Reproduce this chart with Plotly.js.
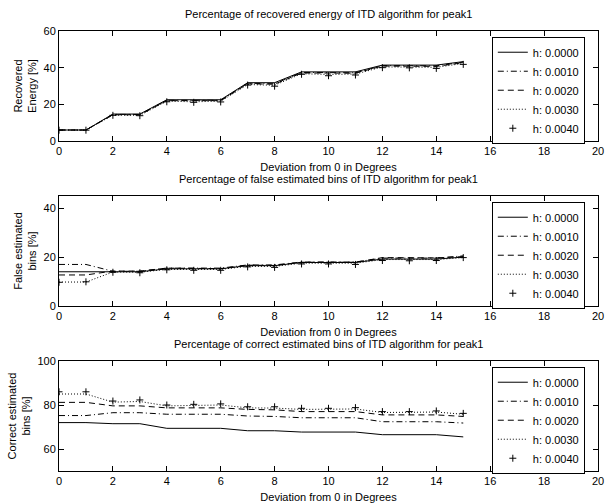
<!DOCTYPE html>
<html>
<head>
<meta charset="utf-8">
<script src="https://cdn.plot.ly/plotly-3.0.1.min.js"></script>
<style>html,body{margin:0;padding:0;background:#fff;}#chart{width:606px;height:504px;}</style>
</head>
<body>
<div id="chart"></div>
<script>
// ---- data ----
var deviation = [0,1,2,3,4,5,6,7,8,9,10,11,12,13,14,15];
var seriesNames = ['h: 0.0000','h: 0.0010','h: 0.0020','h: 0.0030','h: 0.0040'];

// Recovered energy [%]
var energy_h0000 = [6.0,6.0,14.7,14.7,22.5,22.5,22.5,31.8,31.8,37.7,37.7,37.7,41.4,41.4,41.4,43.3];
var energy_h0010 = [6.0,6.0,14.5,14.5,22.2,22.0,22.2,31.5,31.2,37.4,37.2,37.2,41.1,41.0,41.0,43.0];
var energy_h0020 = [6.0,6.0,14.3,14.3,22.0,21.8,22.0,31.2,31.0,37.1,36.9,37.0,40.9,40.7,40.7,42.7];
var energy_h0030 = [6.0,5.9,14.1,14.0,21.7,21.4,21.7,30.8,30.4,36.7,36.3,36.5,40.4,40.2,40.2,42.3];
var energy_h0040 = [5.9,5.9,14.0,13.8,21.4,21.1,21.3,30.5,29.9,36.4,35.6,36.0,40.0,39.9,39.6,41.8];

// False estimated bins [%]
var false_h0000 = [14.0,14.0,14.0,14.0,15.2,15.2,15.2,16.5,16.5,17.8,17.8,17.8,19.2,19.2,19.2,20.0];
var false_h0010 = [17.0,17.0,14.2,14.2,15.5,15.5,15.5,16.8,16.8,18.0,18.0,18.0,19.6,19.6,19.6,20.5];
var false_h0020 = [12.7,12.7,14.3,14.3,15.5,15.3,15.3,16.7,16.6,17.9,17.9,17.9,19.8,19.6,19.7,20.2];
var false_h0030 = [9.8,9.8,13.9,13.8,15.0,15.0,15.0,16.2,16.2,17.5,17.5,17.5,19.0,18.9,19.0,19.8];
var false_h0040 = [9.7,9.9,13.8,13.6,14.8,14.6,14.6,16.0,15.8,17.2,17.2,17.0,18.6,18.5,18.6,19.8];

// Correct estimated bins [%]
var correct_h0000 = [72.0,72.0,71.5,71.5,69.4,69.4,69.4,68.3,68.3,67.7,67.7,67.7,66.5,66.5,66.5,65.5];
var correct_h0010 = [75.2,75.2,76.5,76.5,75.8,75.8,75.8,75.0,74.8,74.2,74.2,74.2,72.4,72.4,72.4,71.8];
var correct_h0020 = [81.2,81.2,79.6,79.6,78.7,78.7,78.7,78.0,77.8,77.0,77.0,77.0,75.5,75.5,75.5,74.8];
var correct_h0030 = [85.0,85.0,81.3,81.6,79.6,79.8,80.0,78.7,78.6,78.0,78.0,78.2,76.6,76.6,76.8,75.8];
var correct_h0040 = [86.0,86.0,81.8,82.3,80.0,80.3,80.5,79.2,79.2,78.5,78.5,78.8,77.0,77.0,77.3,76.2];

var xTickVals = [0,2,4,6,8,10,12,14,16,18,20];
var titles = [
  'Percentage of recovered energy of ITD algorithm for peak1',
  'Percentage of false estimated bins of ITD algorithm for peak1',
  'Percentage of correct estimated bins of ITD algorithm for peak1'
];
var yTitles = ['Recovered<br>Energy [%]','False estimated<br>bins [%]','Correct estimated<br>bins [%]'];
var xTitle = 'Deviation from 0 in Degrees';

// ---- styling ----
var FONT = 'Liberation Sans, Arial, Helvetica, sans-serif';
var styles = [
  {mode:'lines', line:{color:'#000', width:1, dash:'solid'}},
  {mode:'lines', line:{color:'#000', width:1, dash:'6px,3px,1px,3px'}},
  {mode:'lines', line:{color:'#000', width:1, dash:'6px,4px'}},
  {mode:'lines', line:{color:'#000', width:1, dash:'1px,2px'}},
  {mode:'markers', marker:{symbol:'cross-thin-open', size:5, color:'#000', line:{color:'#000', width:1}}}
];

var groups = [
  [energy_h0000, energy_h0010, energy_h0020, energy_h0030, energy_h0040],
  [false_h0000, false_h0010, false_h0020, false_h0030, false_h0040],
  [correct_h0000, correct_h0010, correct_h0020, correct_h0030, correct_h0040]
];

var traces = [];
groups.forEach(function(g, gi){
  g.forEach(function(vals, si){
    var t = {
      x: deviation, y: vals, name: seriesNames[si], type: 'scatter',
      xaxis: gi === 0 ? 'x' : 'x' + (gi+1),
      yaxis: gi === 0 ? 'y' : 'y' + (gi+1),
      legend: gi === 0 ? 'legend' : 'legend' + (gi+1),
      showlegend: true
    };
    var s = styles[si];
    t.mode = s.mode;
    if (s.line) t.line = s.line;
    if (s.marker) t.marker = s.marker;
    traces.push(t);
  });
});

function xAx(anchor){
  return {
    domain:[0,1], anchor:anchor, range:[0,20], tickvals:xTickVals,
    ticks:'inside', ticklen:5, tickcolor:'#000', mirror:'allticks', showline:true,
    linecolor:'#000', linewidth:1, showgrid:false, zeroline:false,
    tickfont:{family:FONT, size:11, color:'#000'},
    title:{text:xTitle, font:{family:FONT, size:11, color:'#000'}, standoff:7}
  };
}
function yAx(anchor, dom, rng, tv, ti){
  return {
    domain:dom, anchor:anchor, range:rng, tickvals:tv,
    ticks:'inside', ticklen:5, tickcolor:'#000', mirror:'allticks', showline:true,
    linecolor:'#000', linewidth:1, showgrid:false, zeroline:false,
    tickfont:{family:FONT, size:11, color:'#000'},
    title:{text:yTitles[ti], font:{family:FONT, size:11, color:'#000'}, standoff:4}
  };
}
function leg(y){
  return {x:0.803, y:y, xanchor:'left', yanchor:'top', xref:'paper', yref:'paper',
    bgcolor:'#fff', bordercolor:'#000', borderwidth:1,
    font:{family:FONT, size:11, color:'#000'}, tracegroupgap:0};
}

var layout = {
  width:606, height:504,
  margin:{l:59, r:8, t:31, b:33},
  paper_bgcolor:'#fff', plot_bgcolor:'#fff',
  font:{family:FONT, size:11, color:'#000'},
  xaxis: xAx('y'),
  yaxis: yAx('x', [0.75,1], [0,60], [0,20,40,60], 0),
  xaxis2: xAx('y2'),
  yaxis2: yAx('x2', [0.375,0.625], [0,45], [0,20,40], 1),
  xaxis3: xAx('y3'),
  yaxis3: yAx('x3', [0,0.25], [50,100], [60,80,100], 2),
  legend: leg(0.987),
  legend2: leg(0.612),
  legend3: leg(0.237),
  annotations: titles.map(function(t, i){
    var sfx = i === 0 ? '' : String(i+1);
    return {text:t, xref:'x'+sfx+' domain', yref:'y'+sfx+' domain', x:0.5, y:1,
      xanchor:'center', yanchor:'bottom', yshift:9, showarrow:false,
      font:{family:FONT, size:11, color:'#000'}};
  })
};

Plotly.newPlot('chart', traces, layout, {displayModeBar:false, staticPlot:true});
</script>
</body>
</html>
